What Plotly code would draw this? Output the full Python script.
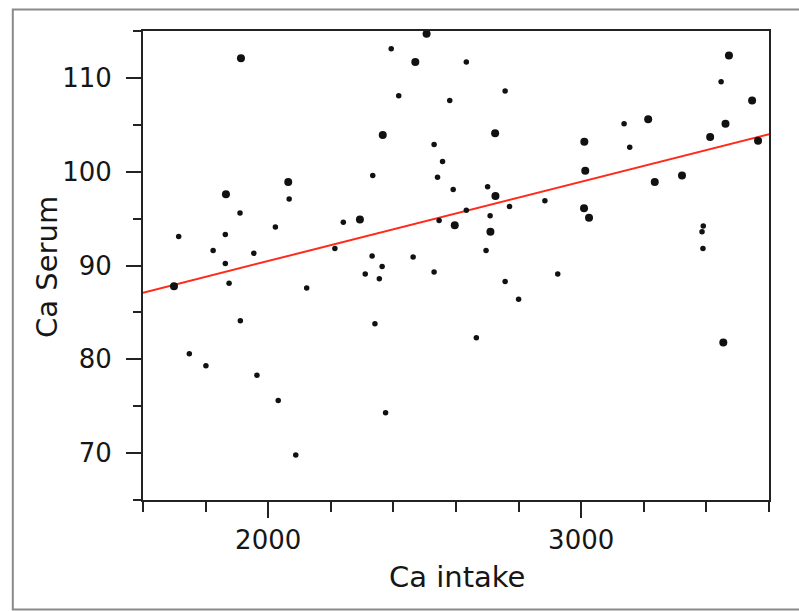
import plotly.graph_objects as go

# Ca intake (x) and Ca serum (y) — larger dots
large_intake = [1913, 1865, 2064, 1699, 2506, 2470, 2366, 2725, 2726, 2293, 2596, 2710,
                3472, 3546, 3214, 3461, 3412, 3565, 3010, 3013, 3322, 3235, 3009, 3025, 3454]
large_serum = [112.1, 97.6, 98.9, 87.8, 114.7, 111.7, 103.9, 104.1, 97.4, 94.9, 94.3, 93.6,
               112.4, 107.6, 105.6, 105.1, 103.7, 103.3, 103.2, 100.1, 99.6, 98.9, 96.1, 95.1, 81.8]

# smaller dots
small_intake = [2067, 1910, 2023, 2240, 1714, 1863, 1824, 1954, 2213, 1863, 1875, 2123, 1911,
                1748, 1801, 1964, 2032, 2088,
                2393, 2633, 2417, 2580, 2757, 2530, 2557, 2334, 2541, 2591, 2701, 2771, 2884,
                2633, 2709, 2546, 2332, 2463, 2696, 2364, 2310, 2355, 2530, 2757, 2800, 2925,
                2341, 2665, 2375,
                3447, 3137, 3155, 3390, 3386, 3389]
small_serum = [97.1, 95.6, 94.1, 94.6, 93.1, 93.3, 91.6, 91.3, 91.8, 90.2, 88.1, 87.6, 84.1,
               80.6, 79.3, 78.3, 75.6, 69.8,
               113.1, 111.7, 108.1, 107.6, 108.6, 102.9, 101.1, 99.6, 99.4, 98.1, 98.4, 96.3, 96.9,
               95.9, 95.3, 94.8, 91.0, 90.9, 91.6, 89.9, 89.1, 88.6, 89.3, 88.3, 86.4, 89.1,
               83.8, 82.3, 74.3,
               109.6, 105.1, 102.6, 94.2, 93.6, 91.8]

# fitted line end points
fit_intake = [1600, 3600]
fit_serum = [87.1, 104.0]

x_ticks = [2000, 3000]
y_ticks = [70, 80, 90, 100, 110]

FONT = "DejaVu Sans"
TXT = "#161616"

fig = go.Figure()
fig.add_trace(go.Scatter(x=fit_intake, y=fit_serum, mode="lines",
                         line=dict(color="#ff2a1a", width=2), hoverinfo="skip"))
fig.add_trace(go.Scatter(x=small_intake, y=small_serum, mode="markers",
                         marker=dict(color="#111111", size=5.5, line=dict(width=0))))
fig.add_trace(go.Scatter(x=large_intake, y=large_serum, mode="markers",
                         marker=dict(color="#111111", size=8, line=dict(width=0))))

fig.update_layout(
    width=799, height=611,
    margin=dict(l=143, r=30, t=31, b=111),
    paper_bgcolor="white", plot_bgcolor="white",
    showlegend=False,
    font=dict(family=FONT, size=26, color=TXT),
    xaxis=dict(range=[1600, 3600], tickvals=x_ticks, ticks="outside", ticklen=16, tickwidth=2,
               tickcolor="#222", showline=True, linewidth=2, linecolor="#222", mirror=True,
               showgrid=False, zeroline=False, ticklabelstandoff=0,
               tickfont=dict(family=FONT, size=26, color=TXT),
               minor=dict(dtick=200, tick0=1600, ticks="outside", ticklen=10, tickwidth=2,
                          tickcolor="#222", showgrid=False)),
    yaxis=dict(range=[65, 115], tickvals=y_ticks, ticks="outside", ticklen=15, tickwidth=2,
               tickcolor="#222", showline=True, linewidth=2, linecolor="#222", mirror=True,
               showgrid=False, zeroline=False, ticklabelstandoff=9,
               tickfont=dict(family=FONT, size=26, color=TXT),
               minor=dict(dtick=5, tick0=65, ticks="outside", ticklen=8, tickwidth=2,
                          tickcolor="#222", showgrid=False)),
    annotations=[
        dict(text="Ca intake", x=0.5016, y=-0.164, xref="paper", yref="paper",
             xanchor="center", yanchor="middle", showarrow=False,
             font=dict(family=FONT, size=29, color=TXT)),
        dict(text="Ca Serum", x=-0.1534, y=0.497, xref="paper", yref="paper",
             xanchor="center", yanchor="middle", showarrow=False, textangle=-90,
             font=dict(family=FONT, size=29, color=TXT)),
    ],
    # outer frame of the original screenshot (open on the right)
    shapes=[dict(type="path", xref="paper", yref="paper",
                 path="M 1.1,1.0458 L -0.208,1.0458 L -0.208,-0.2335 L 1.1,-0.2335",
                 line=dict(color="#8a8a8a", width=2))],
)

fig.write_html(
    "out.html",
    config={"displayModeBar": False},
    post_script="document.body.style.margin='0';document.body.style.overflow='hidden';",
)
